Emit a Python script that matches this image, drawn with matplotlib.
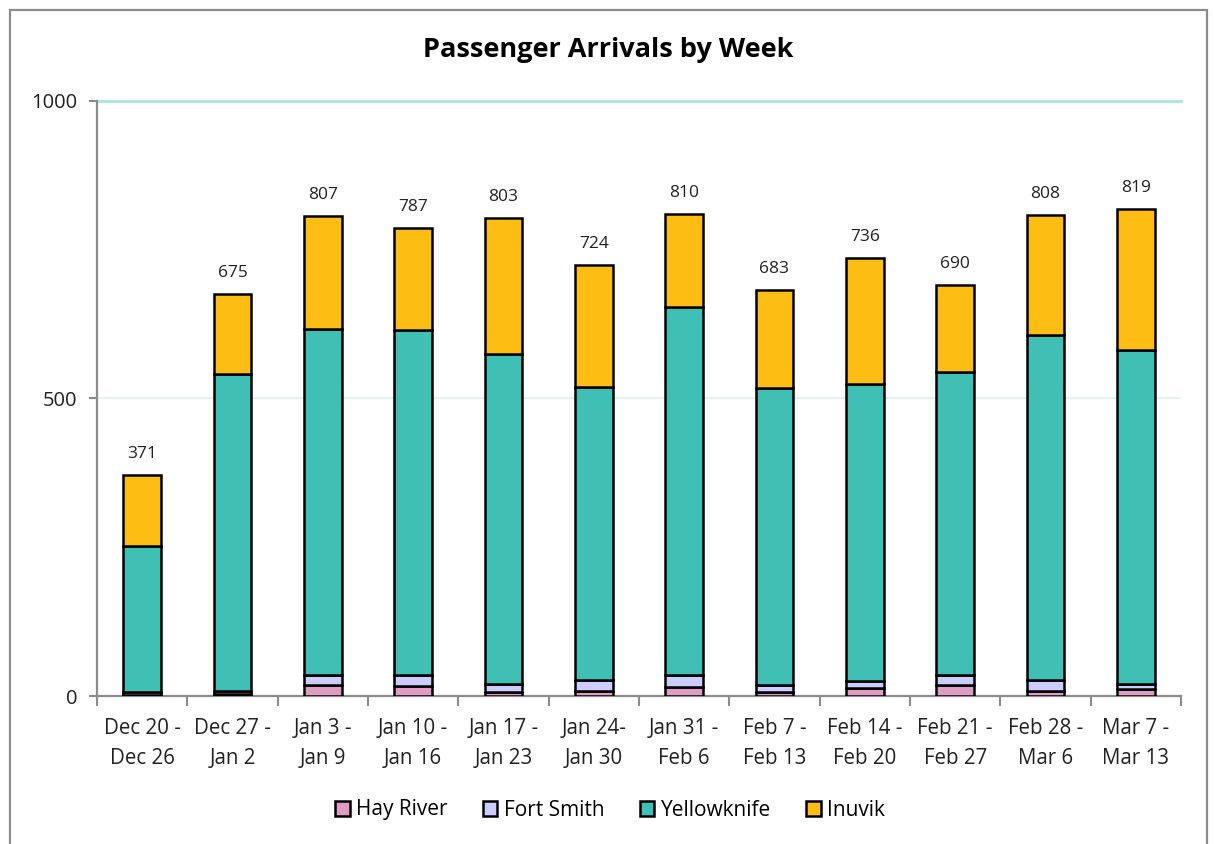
import matplotlib
matplotlib.use("Agg")
import matplotlib.pyplot as plt
import numpy as np
from matplotlib.patches import Rectangle

plt.rcParams['font.family'] = ['Open Sans', 'DejaVu Sans']

weeks = ["Dec 20 -\nDec 26", "Dec 27 -\nJan 2", "Jan 3 -\nJan 9", "Jan 10 -\nJan 16",
         "Jan 17 -\nJan 23", "Jan 24-\nJan 30", "Jan 31 -\nFeb 6", "Feb 7 -\nFeb 13",
         "Feb 14 -\nFeb 20", "Feb 21 -\nFeb 27", "Feb 28 -\nMar 6", "Mar 7 -\nMar 13"]
hay_river = [2, 3, 18, 16, 6, 9, 15, 6, 13, 18, 9, 11]
fort_smith = [4, 6, 18, 19, 14, 18, 21, 13, 12, 17, 18, 9]
yellowknife = [246, 532, 581, 580, 555, 493, 618, 499, 499, 510, 580, 561]
inuvik = [119, 134, 190, 172, 228, 204, 156, 165, 212, 145, 201, 238]
totals = [371, 675, 807, 787, 803, 724, 810, 683, 736, 690, 808, 819]

series = [("Hay River", hay_river, "#DE9DC3"),
          ("Fort Smith", fort_smith, "#CCCCFF"),
          ("Yellowknife", yellowknife, "#40BFB4"),
          ("Inuvik", inuvik, "#FDBD12")]

W, H = 1214, 844
fig = plt.figure(figsize=(W/100, H/100), dpi=100)
# outer border
fig.patches.append(Rectangle((10/W, -0.01), 1197/W, (H-10)/H + 0.01, transform=fig.transFigure,
                             fill=False, edgecolor="#8c8c8c", linewidth=1.6))

ax = fig.add_axes([97/W, 1 - 696/H, (1181-97)/W, (696-101)/H])
x = np.arange(len(weeks))
bottom = np.zeros(len(weeks))
handles = []
for name, vals, col in series:
    b = ax.bar(x, vals, width=0.42, bottom=bottom, color=col, edgecolor="black",
               linewidth=1.8, label=name, zorder=3)
    handles.append(b)
    bottom += np.array(vals)

for xi, t in zip(x, totals):
    ax.text(xi, t + 22, str(t), ha="center", va="bottom", fontsize=12.5, color="#222222")

ax.set_xlim(-0.5, len(weeks) - 0.5)
ax.set_ylim(0, 1000)
ax.set_yticks([0, 500, 1000])
ax.set_yticklabels(["0", "500", "1000"], fontsize=14.5)
ax.set_xticks(x)
ax.set_xticklabels(weeks, fontsize=14.8, linespacing=1.55)
ax.tick_params(axis='x', length=0, pad=16, colors="#222222")
ax.set_xticks(np.arange(-0.5, len(weeks)), minor=True)
ax.tick_params(axis='x', which='minor', length=7, width=1.5, color="#8c8c8c", direction='out')
ax.tick_params(axis='y', length=6, width=1.5, color="#8c8c8c", direction='out', pad=8,
               labelcolor="#222222")

ax.axhline(1000, color="#A8E8E0", linewidth=2.0, zorder=1, clip_on=False)
ax.axhline(500, color="#DDF4F1", linewidth=1.3, zorder=1)

for s in ["top", "right"]:
    ax.spines[s].set_visible(False)
for s in ["left", "bottom"]:
    ax.spines[s].set_color("#8c8c8c")
    ax.spines[s].set_linewidth(1.6)

fig.text(608/W, 1 - 50/H, "Passenger Arrivals by Week", ha="center", va="center",
         fontsize=19.5, fontweight="bold", color="black")

leg = fig.legend(handles=handles, labels=[s[0] for s in series], loc="center",
                 bbox_to_anchor=(610/W, 1 - 810/H), ncol=4, frameon=False, fontsize=15,
                 handlelength=0.7, handleheight=0.7, handletextpad=0.3, columnspacing=1.7)

fig.savefig("out.png", dpi=100)
